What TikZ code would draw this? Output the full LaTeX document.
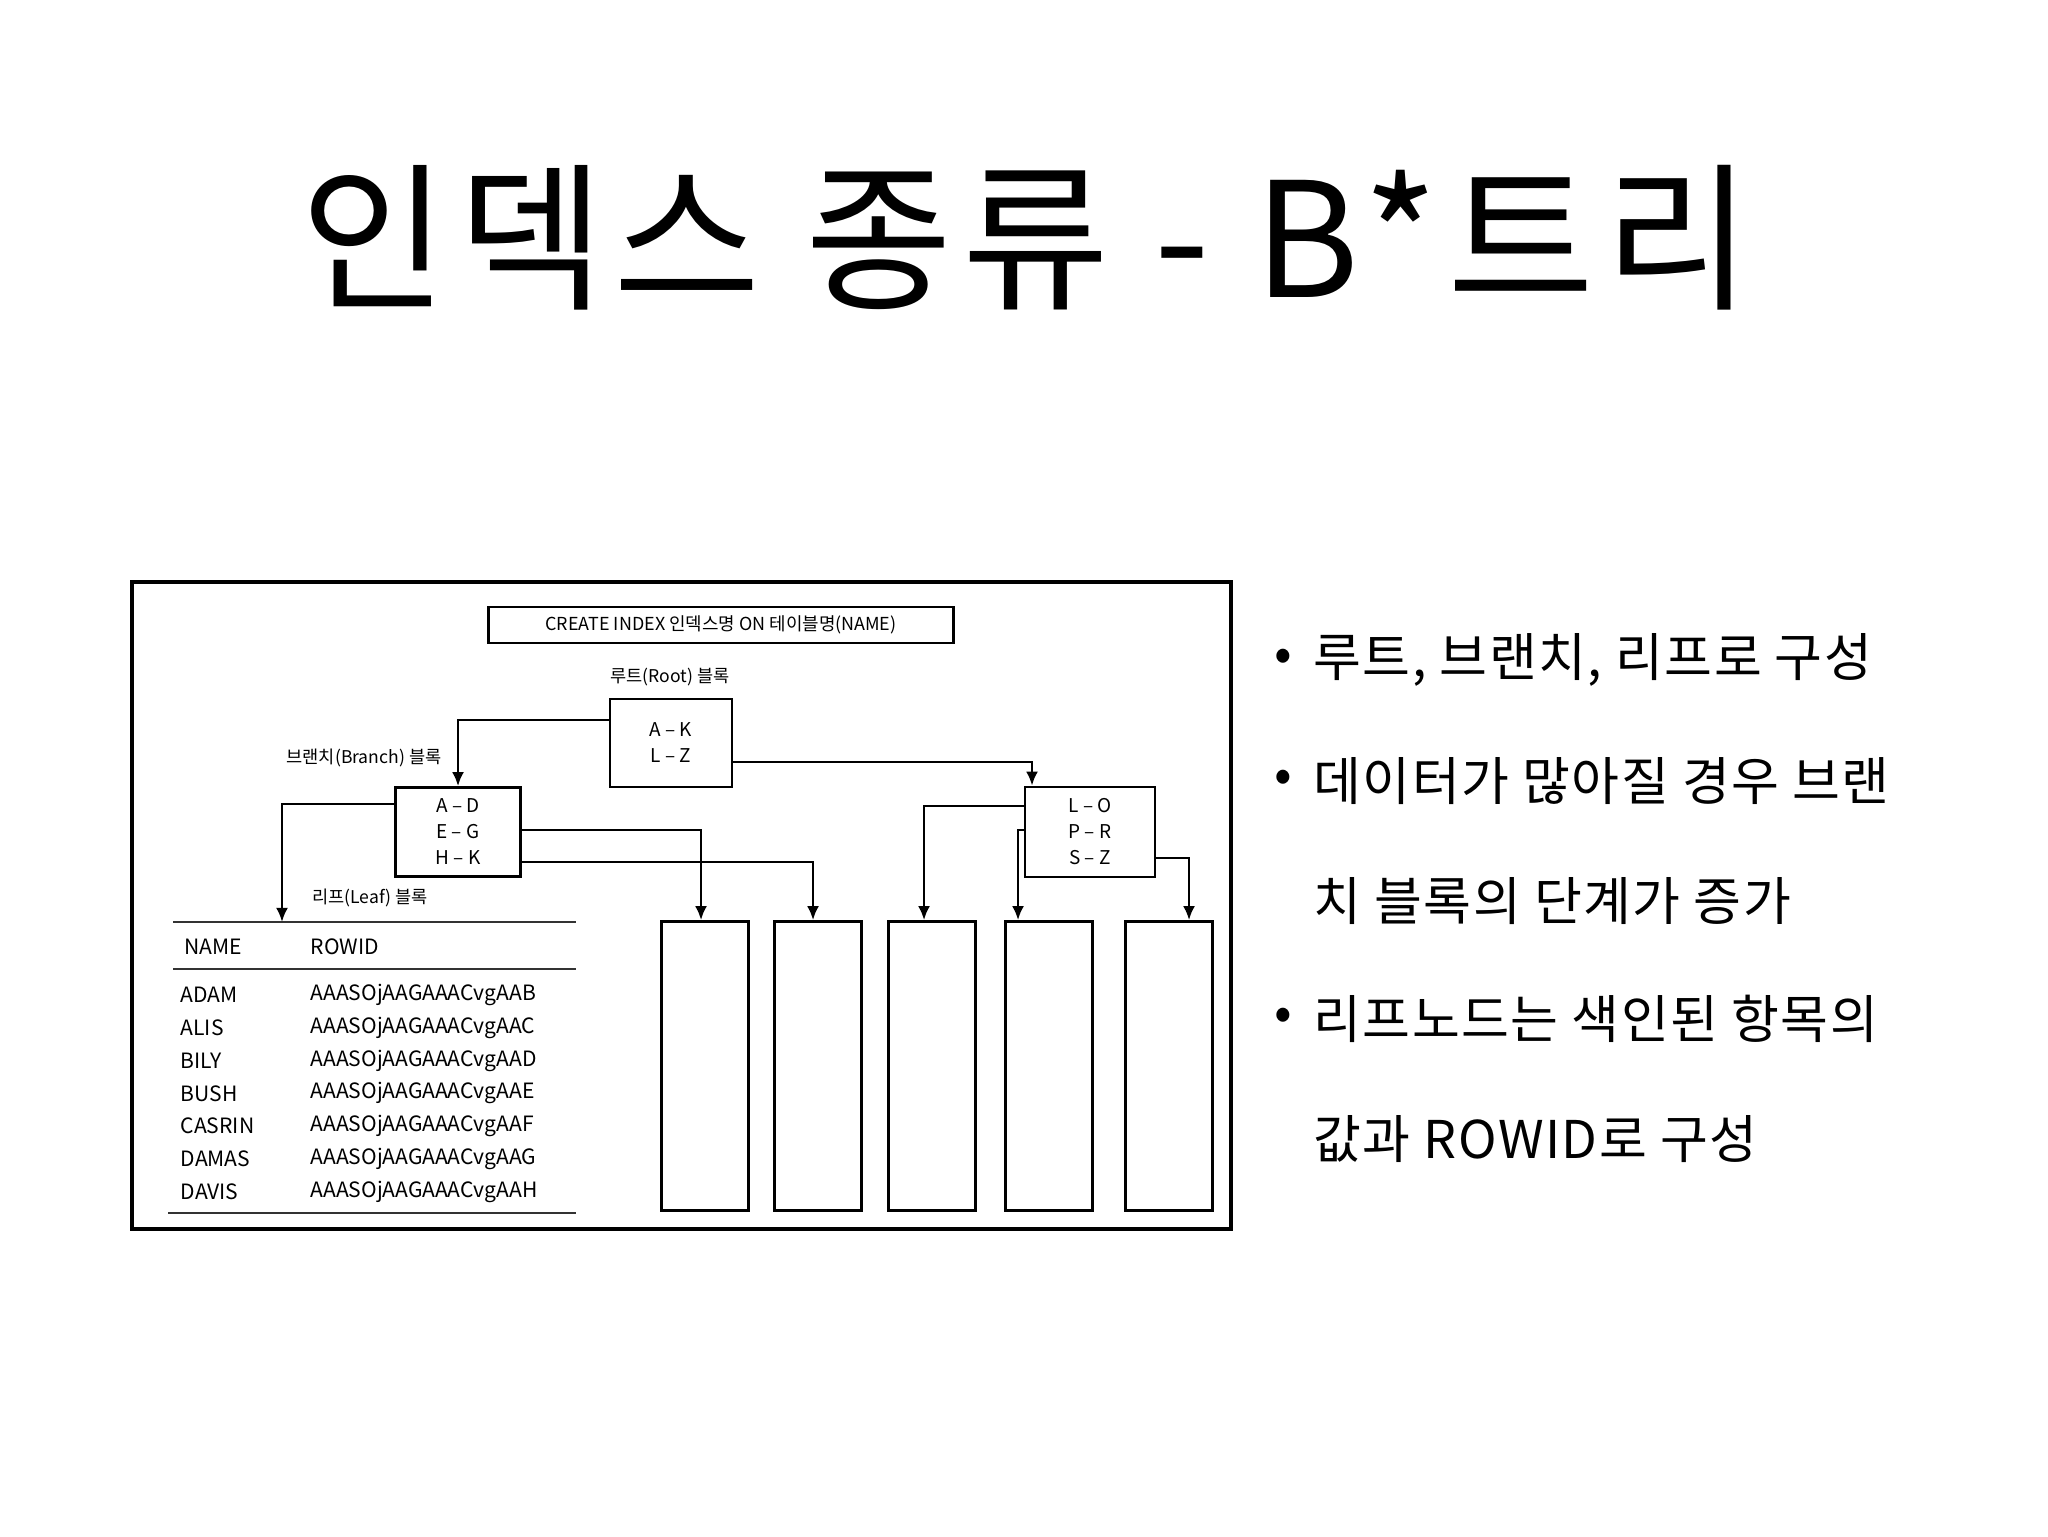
\documentclass[tikz,border=0pt]{standalone}
\usepackage{fontspec}
\setmainfont{Noto Sans CJK KR}
\usepackage{tikz}
\usetikzlibrary{arrows.meta, positioning}
\tikzset{
  frame/.style = {draw=black, line width=1.1pt},
  blk/.style   = {draw=black, line width=0.75pt, align=center, inner sep=0pt,
                  font=\fontsize{5.4}{7.4}\selectfont},
  leafbox/.style = {draw=black, line width=0.75pt, minimum width=8.7mm,
                  minimum height=28.9mm, inner sep=0pt},
  lbl/.style   = {inner sep=0pt, font=\fontsize{5}{6}\selectfont},
  cell/.style  = {inner sep=0pt, anchor=west, font=\fontsize{6}{6}\selectfont},
  rule/.style  = {draw=black!80, line width=0.7pt},
  arr/.style   = {-{Latex[length=4pt, width=3.4pt]}, line width=0.75pt},
  ttl/.style   = {inner sep=0pt, font=\fontsize{45.5}{50}\selectfont\addfontfeatures{LetterSpace=5.8}},
  bul/.style   = {inner sep=0pt, font=\fontsize{14.8}{16}\selectfont\addfontfeatures{LetterSpace=2.8}},
}
\begin{document}
\begin{tikzpicture}[x=0.1mm, y=-0.1mm]
  \useasboundingbox[fill=white] (0,0) rectangle (2048,1536);
  % title
  \node[ttl] (title) at (1026,238) {인덱스 종류 - B*트리};
  % picture frame
  \draw[frame] (132,582) rectangle (1231,1229);
  % statement and block labels
  \node[blk, minimum width=46.5mm, minimum height=3.6mm, font=\fontsize{5.1}{6}\selectfont] (stmt) at (721,625)
    {CREATE INDEX 인덱스명 ON 테이블명(NAME)};
  \node[lbl] (rootlbl) at (670,677) {루트(Root) 블록};
  \node[lbl] (brlbl) at (364,758) {브랜치(Branch) 블록};
  \node[lbl] (lflbl) at (370,898) {리프(Leaf) 블록};
  % root and branch blocks
  \node[blk, minimum width=12.2mm, minimum height=8.8mm] (root) at (671,743)
    {A – K\\L – Z};
  \node[blk, minimum width=12.5mm, minimum height=8.9mm] (br1) at (458,832)
    {A – D\\E – G\\H – K};
  \node[blk, minimum width=13mm, minimum height=9mm] (br2) at (1090,832)
    {L – O\\P – R\\S – Z};
  % leaf blocks
  \foreach \i/\x in {1/705, 2/818, 3/932, 4/1049, 5/1169} {
    \node[leafbox] (lf\i) at (\x,1066) {};
  }
  % leaf table
  \coordinate (t1a) at (173,922);
  \coordinate (t1b) at (576,922);
  \coordinate (t2a) at (173,969);
  \coordinate (t2b) at (576,969);
  \coordinate (t3a) at (168,1213);
  \coordinate (t3b) at (576,1213);
  \coordinate (leaf0) at (282,922);
  \draw[rule] (t1a) -- (t1b);
  \draw[rule] (t2a) -- (t2b);
  \draw[rule] (t3a) -- (t3b);
  \node[cell] (hname) at (184,947) {NAME};
  \node[cell] (hrid) at (310,947) {ROWID};
  \foreach \i/\nm/\c in {1/ADAM/B, 2/ALIS/C, 3/BILY/D, 4/BUSH/E,
                         5/CASRIN/F, 6/DAMAS/G, 7/DAVIS/H} {
    \node[cell] (nm\i) at (180,995+32.8*\i-32.8) {\nm};
    \node[cell] (rid\i) at (310,995+32.8*\i-32.8) {AAASOjAAGAAACvgAA\c};
  }
  % connectors
  \draw[arr] ([yshift=2.3mm]root.west) -| (br1.north);
  \draw[arr] ([yshift=-1.9mm]root.east) -| ([xshift=-5.8mm]br2.north);
  \draw[arr] ([yshift=2.8mm]br1.west) -| (leaf0);
  \draw[arr] ([yshift=0.2mm]br1.east) -| ([xshift=-0.4mm]lf1.north);
  \draw[arr] ([yshift=-3mm]br1.east) -| ([xshift=-0.5mm]lf2.north);
  \draw[arr] ([yshift=2.6mm]br2.west) -| ([xshift=-0.8mm]lf3.north);
  \draw[arr] ([yshift=0.2mm]br2.west) -| ([xshift=-3.1mm]lf4.north);
  \draw[arr] ([yshift=-2.6mm]br2.east) -| ([xshift=2mm]lf5.north);
  % bullet list
  \foreach \i/\y in {1/660, 2/781, 4/1019} {
    \node[bul] (dot\i) at (1283,\y) {•};
  }
  \foreach \i/\y/\txt in {1/660/{루트, 브랜치, 리프로 구성},
                          2/781/{데이터가 많아질 경우 브랜},
                          3/901/{치 블록의 단계가 증가},
                          4/1019/{리프노드는 색인된 항목의},
                          5/1139/{값과 ROWID로 구성}} {
    \node[bul, anchor=west] (item\i) at (1313,\y) {\txt};
  }
\end{tikzpicture}
\end{document}
